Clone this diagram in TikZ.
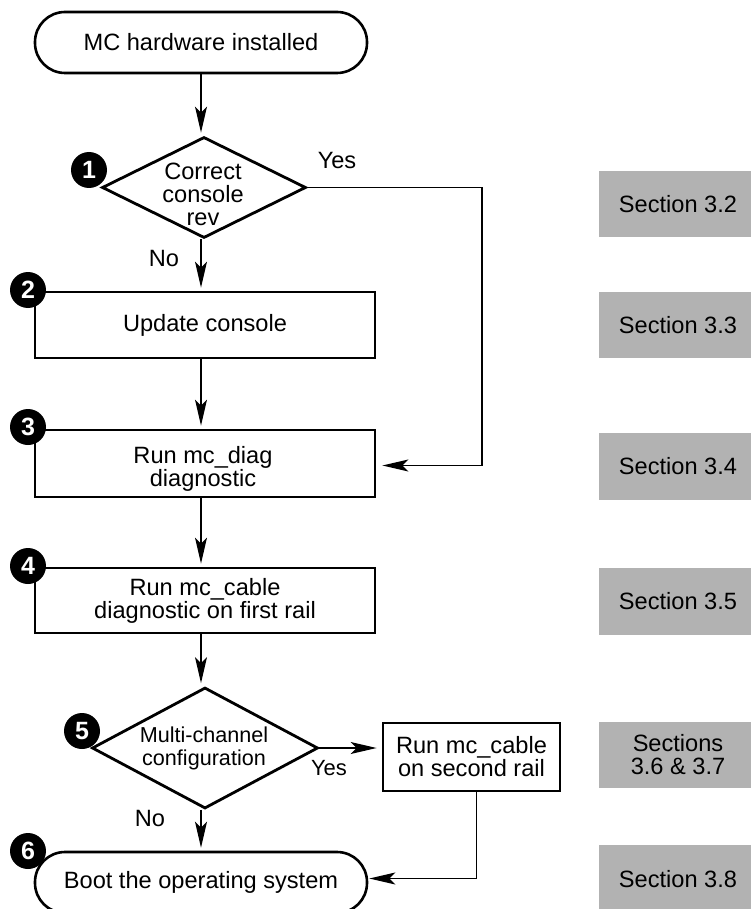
\documentclass[tikz,border=0pt]{standalone}
\usepackage{fontspec}
\setmainfont{Liberation Sans}
\usetikzlibrary{shapes.geometric,arrows.meta,calc}
\begin{document}
\begin{tikzpicture}[x=1pt,y=-1pt,
  every node/.style={font=\fontsize{23.6}{23}\selectfont,inner sep=0pt},
  term/.style={draw,line width=2.6pt,rounded corners=30pt,minimum width=332pt,minimum height=61pt},
  box/.style={draw,line width=2.8pt,minimum width=340pt,align=center},
  dia/.style={draw,diamond,line width=2.8pt,inner sep=0pt},
  txt/.style={align=center},
  sec/.style={fill=black!30,minimum width=158pt,align=center},
  num/.style={circle,fill=black,text=white,minimum size=36pt,inner sep=0pt,
    font=\fontsize{25}{25}\selectfont\bfseries},
  arr/.style={line width=1.3pt,-{Stealth[length=26pt,width=12pt,inset=6pt]},shorten >=3pt}
]
\useasboundingbox (0,0) rectangle (750,909);

% vertical axis of the main flow and x of the "Yes" bypass
\coordinate (ax) at (201,0);
\coordinate (yx) at (482,0);

% flow elements
\node[term] (start) at (201,42.5) {MC hardware installed};
\node[dia,minimum width=204pt,minimum height=101pt] (d1) at (204,187.5) {};
\node[txt] (d1t) at (203,194.5) {Correct\\console\\rev};
\node[box,minimum height=66pt] (b2) at (205,325) {Update console};
\node[box,minimum height=67pt] (b3) at (205,463.5) {};
\node[txt] (b3t) at (203,469) {Run mc\_diag\\diagnostic};
\node[box,minimum height=65pt] (b4) at (205,600.5) {Run mc\_cable\\diagnostic on first rail};
\node[dia,minimum width=226pt,minimum height=121pt] (d5) at (205,748) {};
\node[txt,font=\fontsize{21.6}{23}\selectfont] (d5t) at (204,748) {Multi-channel\\configuration};
\node[box,minimum width=177pt,minimum height=68pt] (b5) at (471.5,757) {Run mc\_cable\\on second rail};
\node[term] (boot) at (201,882.5) {Boot the operating system};

% branch labels
\node (yes1) at (337,160) {Yes};
\node (no1) at (164,258) {No};
\node[font=\fontsize{22}{22}\selectfont] (yes5) at (329,768.5) {Yes};
\node (no5) at (150,818) {No};

% connectors
\draw[arr] (start.south -| ax) -- (d1.north -| ax);
\draw[arr] (d1.south -| ax) -- (b2.north -| ax);
\draw[arr] (b2.south -| ax) -- (b3.north -| ax);
\draw[arr] (b3.south -| ax) -- (b4.north -| ax);
\draw[arr] (b4.south -| ax) -- (d5.north -| ax);
\draw[arr] (d5.south -| ax) -- (boot.north -| ax);
\draw[arr,shorten >=6pt] (d1.east) -- (d1.east -| yx) -- ([yshift=-2pt]yx |- b3.east) -- ([yshift=-2pt]b3.east);
\draw[arr,shorten >=5pt] (d5.east) -- (d5.east -| b5.west);
\draw[arr,shorten >=1pt] ([xshift=5pt]b5.south) |- ([yshift=4pt]boot.east);

% step numbers
\node[num] (n1) at (89,170) {1};
\node[num] (n2) at (28,290) {2};
\node[num] (n3) at (28,427) {3};
\node[num] (n4) at (28,566) {4};
\node[num] (n5) at (82,731) {5};
\node[num] (n6) at (28,851) {6};

% section references
\node[sec,minimum height=66pt] (s2) at (678,204) {Section 3.2};
\node[sec,minimum height=66pt] (s3) at (678,325) {Section 3.3};
\node[sec,minimum height=67pt] (s4) at (678,466.5) {Section 3.4};
\node[sec,minimum height=67pt] (s5) at (678,601.5) {Section 3.5};
\node[sec,minimum height=66pt] (s6) at (678,755) {Sections\\3.6 \& 3.7};
\node[sec,minimum height=68pt] (s8) at (678,879) {Section 3.8};
\end{tikzpicture}
\end{document}
